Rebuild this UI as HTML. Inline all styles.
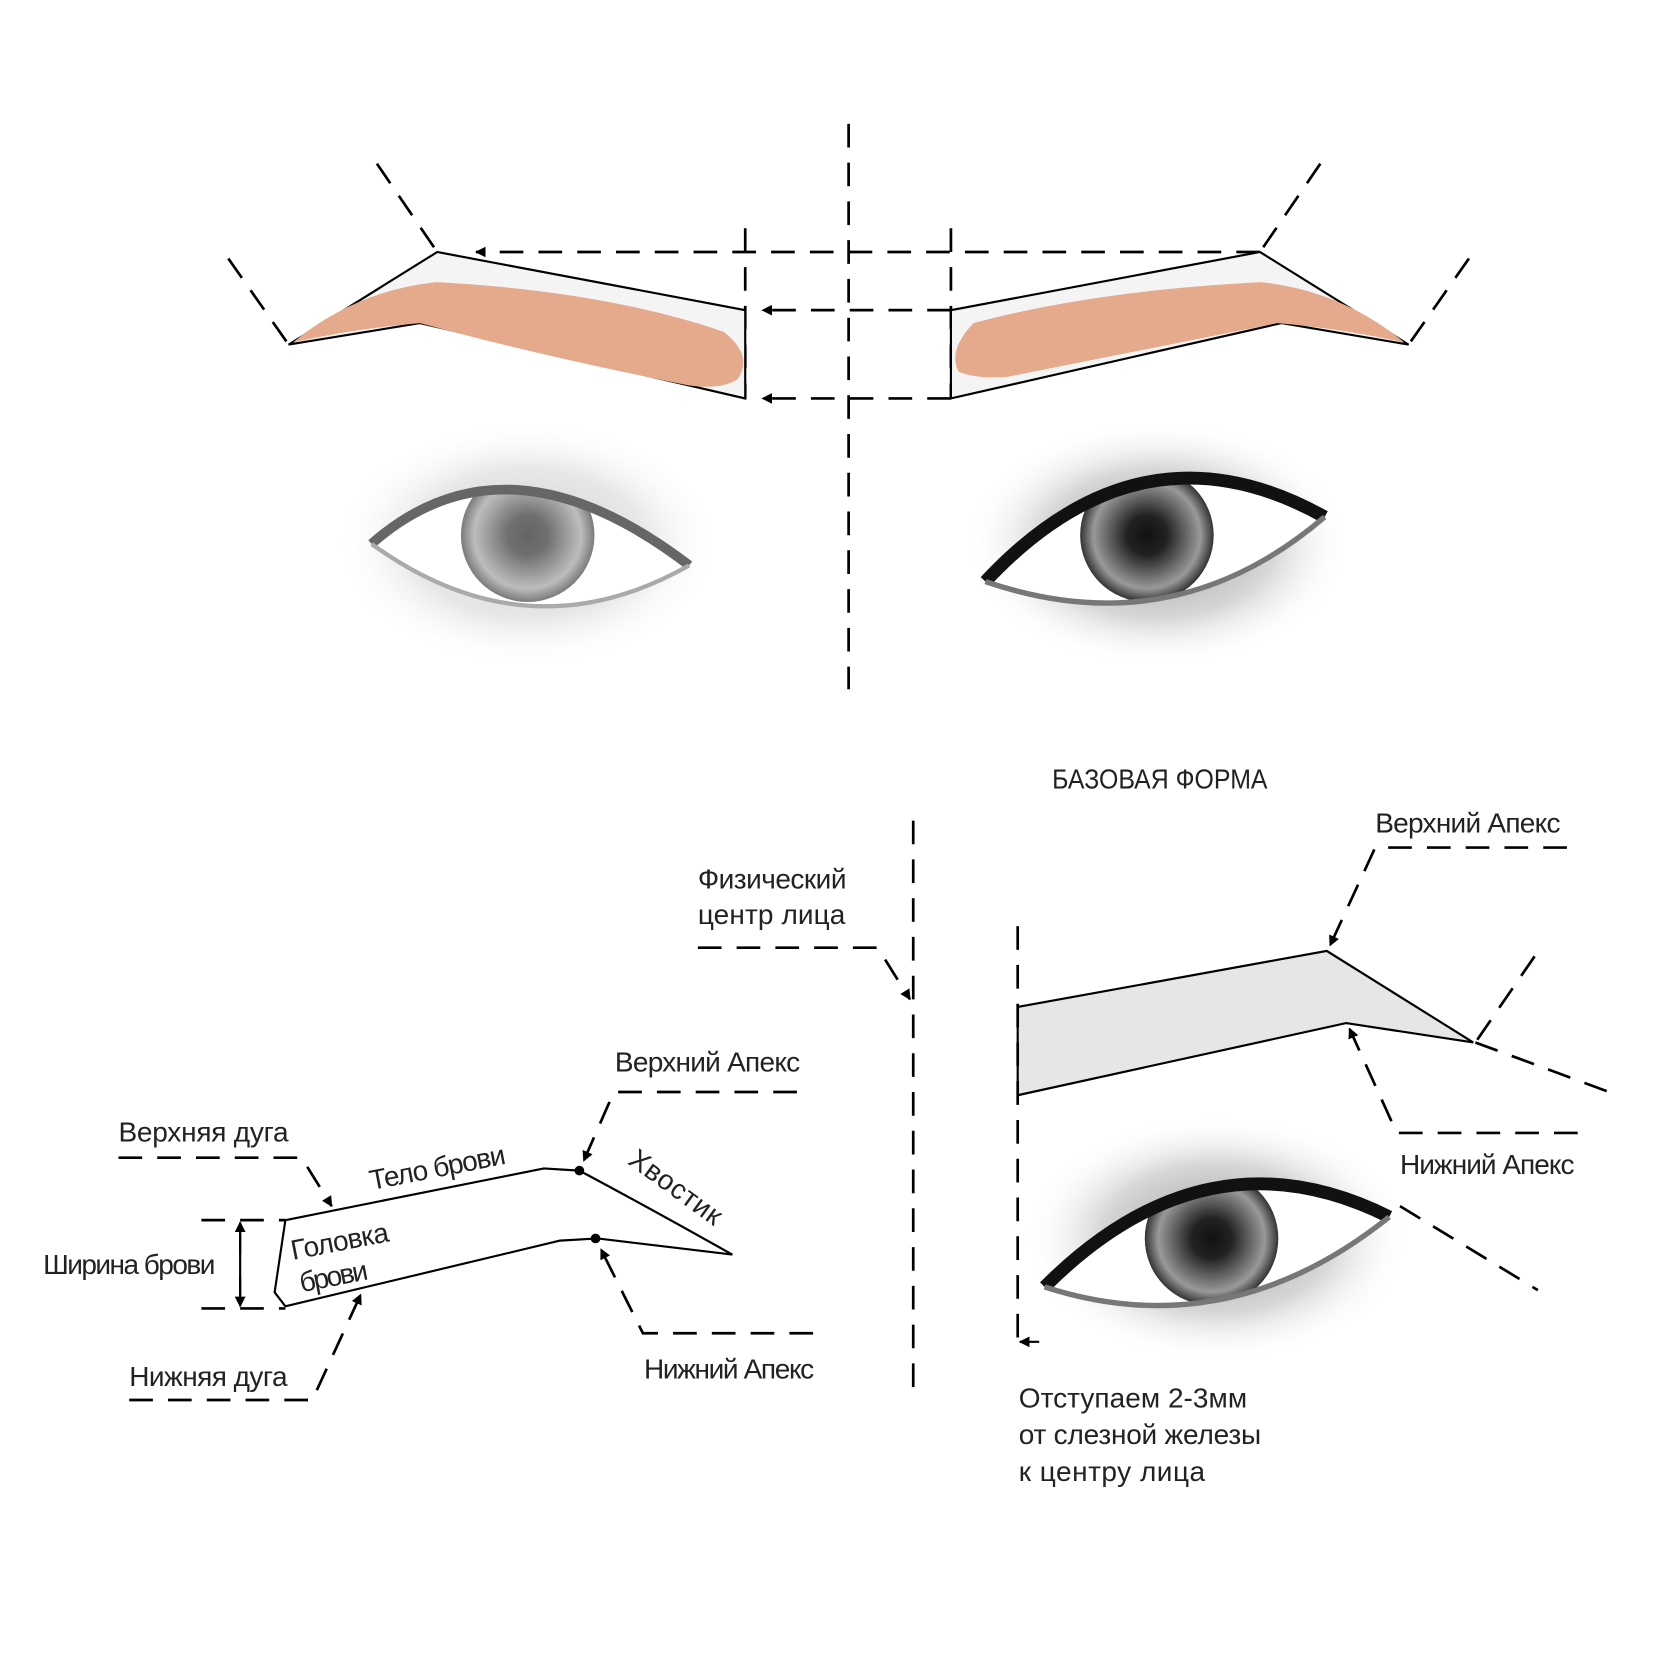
<!DOCTYPE html>
<html><head><meta charset="utf-8"><style>
html,body{margin:0;padding:0;background:#fff}
svg{display:block}
text{font-family:"Liberation Sans Narrow","Liberation Sans","DejaVu Sans Condensed",sans-serif;fill:#222}
</style></head><body>
<svg width="1680" height="1680" viewBox="0 0 1560 1560" xmlns="http://www.w3.org/2000/svg">
<defs>
<marker id="a" markerWidth="10" markerHeight="10" refX="9" refY="5" orient="auto" markerUnits="userSpaceOnUse"><path d="M0,0 L10,5 L0,10 z" fill="#000"/></marker>
<radialGradient id="eyeL" cx="50%" cy="50%" r="50%"><stop offset="0" stop-color="#bbb"/><stop offset="0.6" stop-color="#ddd"/><stop offset="1" stop-color="#fff" stop-opacity="0"/></radialGradient>
<radialGradient id="eyeR" cx="50%" cy="50%" r="50%"><stop offset="0" stop-color="#888"/><stop offset="0.6" stop-color="#ccc"/><stop offset="1" stop-color="#fff" stop-opacity="0"/></radialGradient>
<radialGradient id="iris" cx="50%" cy="50%" r="50%"><stop offset="0" stop-color="#111"/><stop offset="0.3" stop-color="#222"/><stop offset="0.8" stop-color="#999"/><stop offset="1" stop-color="#333"/></radialGradient>
<clipPath id="c1"><path d="M345,505 Q470,395 640,525 Q490,610 345,505z"/></clipPath>
<clipPath id="c2"><path d="M915,540 Q1060,385 1230,480 Q1090,600 915,540z"/></clipPath>
<clipPath id="c3"><path d="M970,1195 Q1120,1045 1290,1130 Q1140,1250 970,1195z"/></clipPath>
</defs>
<g stroke="#000" stroke-width="2.5" fill="none" stroke-dasharray="22,14">
<line x1="788" y1="115" x2="788" y2="640"/>
<line x1="692" y1="212" x2="692" y2="370"/>
<line x1="883" y1="212" x2="883" y2="370"/>
<line x1="1170" y1="234" x2="442" y2="234" marker-end="url(#a)"/>
<line x1="883" y1="288" x2="708" y2="288" marker-end="url(#a)"/>
<line x1="883" y1="370" x2="708" y2="370" marker-end="url(#a)"/>
<line x1="350" y1="152" x2="406" y2="234"/>
<line x1="212" y1="240" x2="268" y2="320"/>
<line x1="1226" y1="152" x2="1170" y2="234"/>
<line x1="1364" y1="240" x2="1308" y2="320"/>
</g>
<!-- top eyes -->
<ellipse cx="490" cy="505" rx="180" ry="115" fill="url(#eyeL)" opacity="0.7"/>
<path d="M345,505 Q470,395 640,525 Q490,610 345,505z" fill="#fff"/>
<circle cx="490" cy="497" r="62" fill="url(#iris)" opacity="0.65" clip-path="url(#c1)"/>
<path d="M345,505 Q470,395 640,525" fill="none" stroke="#666" stroke-width="9"/>
<path d="M640,525 Q490,610 345,505" fill="none" stroke="#aaa" stroke-width="4"/>
<ellipse cx="1075" cy="505" rx="180" ry="115" fill="url(#eyeR)" opacity="0.8"/>
<path d="M915,540 Q1060,385 1230,480 Q1090,600 915,540z" fill="#fff"/>
<circle cx="1065" cy="497" r="62" fill="url(#iris)" clip-path="url(#c2)"/>
<path d="M915,540 Q1060,385 1230,480" fill="none" stroke="#111" stroke-width="12"/>
<path d="M1230,480 Q1090,600 915,540" fill="none" stroke="#777" stroke-width="5"/>
<!-- top brows -->
<polygon points="268,320 406,234 692,288 692,370 390,300" fill="#f4f4f4" stroke="#000" stroke-width="2"/>
<path d="M272,318 Q330,270 405,262 Q560,270 672,308 Q700,330 685,352 Q670,362 640,358 Q500,330 390,300 Q330,305 272,318z" fill="#e5a98c"/>
<polygon points="1308,320 1170,234 883,288 883,370 1190,300" fill="#f4f4f4" stroke="#000" stroke-width="2"/>
<path d="M1304,318 Q1246,270 1171,262 Q1016,270 904,300 Q880,325 890,345 Q905,352 935,350 Q1076,322 1186,300 Q1246,305 1304,318z" fill="#e5a98c"/>
<text x="977" y="732" font-size="26" textLength="200" lengthAdjust="spacingAndGlyphs">БАЗОВАЯ ФОРМА</text>
<!-- left diagram -->
<g stroke="#000" stroke-width="2.5" fill="none" stroke-dasharray="22,14">
<line x1="848" y1="762" x2="848" y2="1290"/>
<polyline points="648,880 815,880 845,928" marker-end="url(#a)"/>
<polyline points="110,1075 280,1075 308,1120" marker-end="url(#a)"/>
<polyline points="120,1300 290,1300 335,1202" marker-end="url(#a)"/>
<polyline points="740,1014 570,1014 542,1078" marker-end="url(#a)"/>
<polyline points="755,1238 597,1238 558,1160" marker-end="url(#a)"/>
<line x1="187" y1="1133" x2="265" y2="1133"/>
<line x1="187" y1="1215" x2="265" y2="1215"/>
</g>
<line x1="223" y1="1145" x2="223" y2="1203" stroke="#000" stroke-width="2"/>
<line x1="223" y1="1165" x2="223" y2="1135" stroke="#000" stroke-width="2" marker-end="url(#a)"/>
<line x1="223" y1="1185" x2="223" y2="1213" stroke="#000" stroke-width="2" marker-end="url(#a)"/>
<path d="M265,1133 L505,1085 L538,1087 Q600,1120 680,1165 L555,1150 L520,1152 L265,1213 L255,1200 Z" fill="none" stroke="#000" stroke-width="2"/>
<circle cx="538" cy="1087" r="4.5"/><circle cx="553" cy="1150" r="4.5"/>
<g font-size="26" lengthAdjust="spacingAndGlyphs">
<text x="110" y="1060" textLength="158">Верхняя дуга</text>
<text x="40" y="1183" textLength="160">Ширина брови</text>
<text x="120" y="1287" textLength="147">Нижняя дуга</text>
<text x="571" y="995" textLength="172">Верхний Апекс</text>
<text x="598" y="1280" textLength="158">Нижний Апекс</text>
<text x="648" y="825" textLength="138">Физический</text>
<text x="648" y="858" textLength="137">центр лица</text>
<text transform="translate(345,1105) rotate(-11)" textLength="128">Тело брови</text>
<text transform="translate(582,1080) rotate(36)" textLength="100">Хвостик</text>
<text transform="translate(272,1170) rotate(-11)" textLength="92">Головка</text>
<text transform="translate(280,1200) rotate(-11)" textLength="64">брови</text>
<text x="1277" y="773" textLength="172">Верхний Апекс</text>
<text x="1300" y="1090" textLength="162">Нижний Апекс</text>
<text x="946" y="1307" textLength="212">Отступаем 2-3мм</text>
<text x="946" y="1341" textLength="225">от слезной железы</text>
<text x="946" y="1375" textLength="173">к центру лица</text>
</g>
<!-- right diagram -->
<ellipse cx="1130" cy="1150" rx="180" ry="115" fill="url(#eyeR)" opacity="0.8"/>
<path d="M970,1195 Q1120,1045 1290,1130 Q1140,1250 970,1195z" fill="#fff"/>
<circle cx="1125" cy="1150" r="62" fill="url(#iris)" clip-path="url(#c3)"/>
<path d="M970,1195 Q1120,1045 1290,1130" fill="none" stroke="#111" stroke-width="12"/>
<path d="M1290,1130 Q1140,1250 970,1195" fill="none" stroke="#777" stroke-width="5"/>
<polygon points="945,935 1232,883 1368,968 1250,950 945,1017" fill="#e6e6e6" stroke="#000" stroke-width="2"/>
<g stroke="#000" stroke-width="2.5" fill="none" stroke-dasharray="22,14">
<line x1="945" y1="860" x2="945" y2="1245"/>
<polyline points="1455,787 1277,787 1235,878" marker-end="url(#a)"/>
<polyline points="1465,1052 1297,1052 1253,955" marker-end="url(#a)"/>
<line x1="1425" y1="888" x2="1370" y2="968"/>
<line x1="1370" y1="968" x2="1505" y2="1018"/>
<line x1="1300" y1="1120" x2="1428" y2="1198"/>
</g>
<line x1="965" y1="1246" x2="947" y2="1246" stroke="#000" stroke-width="2" marker-end="url(#a)"/>
</svg>
</body></html>
